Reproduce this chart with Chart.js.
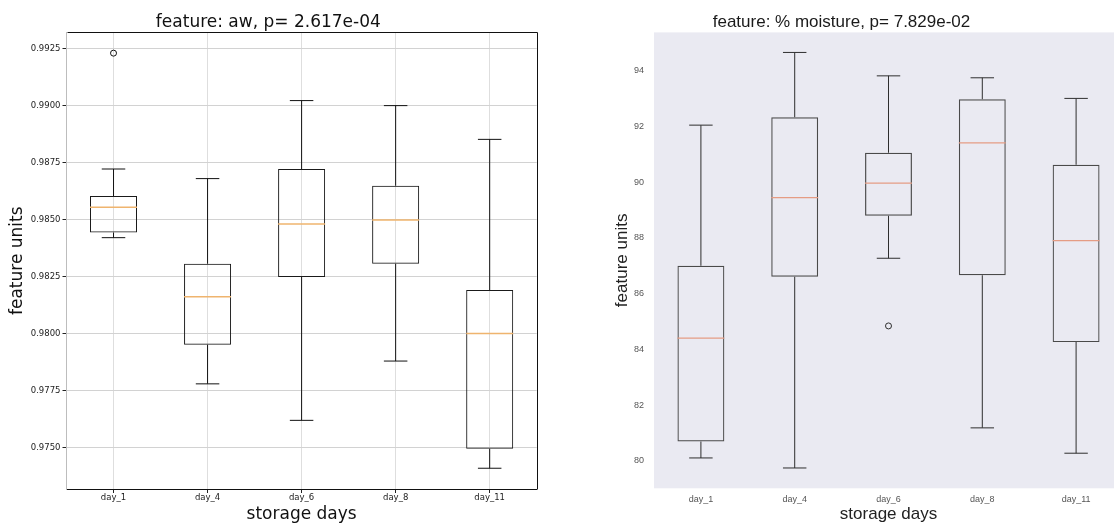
<!DOCTYPE html>
<html>
<head>
<meta charset="utf-8">
<script src="https://cdn.jsdelivr.net/npm/chart.js@4.4.1/dist/chart.umd.min.js"></script>
<style>
  html, body { margin: 0; padding: 0; background: #ffffff; overflow: hidden; width: 1114px; height: 525px; }
  #awChart { position: absolute; left: 0; top: 0; }
  #moistChart { position: absolute; left: 560px; top: 0; }
</style>
</head>
<body>
<canvas id="awChart" width="603" height="525"></canvas>
<canvas id="moistChart" width="657" height="525"></canvas>
<script>
// Storage day groups
const days = ['day_1', 'day_4', 'day_6', 'day_8', 'day_11'];

// Water activity (aw) five-number summaries per day
const awLow      = [0.98421, 0.97780, 0.97620, 0.97880, 0.97410];
const awQ1       = [0.98444, 0.97952, 0.98249, 0.98307, 0.97496];
const awMedian   = [0.98554, 0.98162, 0.98481, 0.98499, 0.98001];
const awQ3       = [0.98604, 0.98307, 0.98722, 0.98649, 0.98192];
const awHigh     = [0.98722, 0.98680, 0.99022, 0.99000, 0.98852];
const awOutliers = [0.99230, null, null, null, null];
const awTicks    = [0.9750, 0.9775, 0.9800, 0.9825, 0.9850, 0.9875, 0.9900, 0.9925];

// % moisture five-number summaries per day
const mLow      = [80.10, 79.74, 87.27, 81.18, 80.27];
const mQ1       = [80.69, 86.61, 88.80, 86.66, 84.26];
const mMedian   = [84.40, 89.45, 89.97, 91.41, 87.90];
const mQ3       = [87.00, 92.33, 91.06, 92.98, 90.63];
const mHigh     = [92.05, 94.66, 93.82, 93.75, 93.01];
const mOutliers = [null, null, 84.84, null, null];
const mTicks    = [80, 82, 84, 86, 88, 90, 92, 94];

// Half of the box width in pixels, taken from the category scale
function boxHalf(ctx, frac) {
  const s = ctx.chart.scales.x;
  return Math.abs(s.getPixelForValue(1) - s.getPixelForValue(0)) * frac / 2;
}

// Builds the datasets that make up one box-and-whisker plot
function boxDatasets(low, q1, med, q3, high, outliers, st) {
  const pair = (a, b) => a.map((v, i) => [v, b[i]]);
  const pointSet = (data, radius, color, width, style) => ({
    type: 'line', data, showLine: false, pointStyle: style || 'line',
    pointRadius: radius, pointHoverRadius: radius,
    pointBorderColor: color, pointBackgroundColor: 'rgba(0,0,0,0)',
    pointBorderWidth: width
  });
  const whisker = data => ({
    type: 'bar', data, backgroundColor: st.line, borderWidth: 0,
    inflateAmount: 0, grouped: false, barThickness: 1
  });
  return [
    pointSet(med, c => boxHalf(c, st.boxFrac), st.median, st.medianWidth),
    pointSet(outliers, 3, st.line, 1, 'circle'),
    pointSet(high, c => boxHalf(c, st.boxFrac) / 2, st.line, 1),
    pointSet(low, c => boxHalf(c, st.boxFrac) / 2, st.line, 1),
    {
      type: 'bar', data: pair(q1, q3), backgroundColor: 'rgba(0,0,0,0)',
      borderColor: st.box, borderWidth: st.boxWidth, borderSkipped: false,
      inflateAmount: 0, grouped: false, categoryPercentage: 1, barPercentage: st.boxFrac
    },
    whisker(pair(q3, high)),
    whisker(pair(low, q1))
  ];
}

// Black frame on the top and right of the aw plot
const frameEdges = {
  id: 'frameEdges',
  afterDraw(chart) {
    const a = chart.chartArea, ctx = chart.ctx;
    ctx.save();
    ctx.strokeStyle = '#111';
    ctx.lineWidth = 1;
    ctx.beginPath();
    ctx.moveTo(Math.round(a.left) + 0.5, Math.round(a.top) + 0.5);
    ctx.lineTo(Math.round(a.right) + 0.5, Math.round(a.top) + 0.5);
    ctx.lineTo(Math.round(a.right) + 0.5, Math.round(a.bottom) + 0.5);
    ctx.stroke();
    ctx.restore();
  }
};

// Lavender plot background for the moisture panel
const plotBackground = {
  id: 'plotBackground',
  beforeDraw(chart, args, opts) {
    const a = chart.chartArea, ctx = chart.ctx;
    ctx.save();
    ctx.fillStyle = opts.color;
    ctx.fillRect(a.left, a.top, a.right - a.left, a.bottom - a.top);
    ctx.restore();
  }
};

const DJ = 'DejaVu Sans';
const LS = 'Liberation Sans';

new Chart(document.getElementById('awChart'), {
  type: 'bar',
  data: {
    labels: days,
    datasets: boxDatasets(awLow, awQ1, awMedian, awQ3, awHigh, awOutliers, {
      boxFrac: 0.5, box: '#1a1a1a', boxWidth: 1, line: '#111111',
      median: '#efb46e', medianWidth: 1.5
    })
  },
  options: {
    responsive: false,
    animation: false,
    events: [],
    layout: { padding: { left: 0, right: 66.3, top: 0, bottom: 0 } },
    plugins: {
      legend: { display: false },
      tooltip: { enabled: false },
      title: {
        display: true, text: 'feature: aw, p= 2.617e-04', color: '#111',
        font: { family: DJ, size: 17, weight: 'normal' }, padding: { top: 12, bottom: 0 }
      }
    },
    scales: {
      x: {
        type: 'category', offset: true,
        grid: { display: true, offset: false, color: '#dedede', lineWidth: 1, drawTicks: true, tickLength: 4, tickColor: '#222' },
        border: { display: true, color: '#111', width: 1 },
        ticks: { color: '#222', font: { family: DJ, size: 8.5 }, padding: 0, maxRotation: 0, autoSkip: false },
        title: { display: true, text: 'storage days', color: '#111', font: { family: DJ, size: 17 }, padding: { top: 0, bottom: 0 } },
        afterFit: s => { s.height = 36; }
      },
      y: {
        type: 'linear', min: 0.97319, max: 0.99321,
        afterBuildTicks: s => { s.ticks = awTicks.map(v => ({ value: v })); },
        grid: { color: '#d2d2d2', lineWidth: 1, drawTicks: true, tickLength: 4, tickColor: '#222' },
        border: { display: true, color: '#bdbdbd', width: 1 },
        ticks: { color: '#222', font: { family: DJ, size: 8.5 }, padding: 2, callback: v => Number(v).toFixed(4) },
        title: { display: true, text: 'feature units', color: '#111', font: { family: DJ, size: 17 }, padding: { top: 7, bottom: 0 } },
        afterFit: s => { s.width = 66.5; }
      }
    }
  },
  plugins: [frameEdges]
});

new Chart(document.getElementById('moistChart'), {
  type: 'bar',
  data: {
    labels: days,
    datasets: boxDatasets(mLow, mQ1, mMedian, mQ3, mHigh, mOutliers, {
      boxFrac: 0.5, box: '#4a4a4a', boxWidth: 1.2, line: '#2e2e2e',
      median: '#e59c84', medianWidth: 1.3
    })
  },
  options: {
    responsive: false,
    animation: false,
    events: [],
    layout: { padding: { left: 0, right: 94, top: 0, bottom: 0 } },
    plugins: {
      legend: { display: false },
      tooltip: { enabled: false },
      plotBackground: { color: '#eaeaf2' },
      title: {
        display: true, text: 'feature: % moisture, p= 7.829e-02', color: '#1a1a1a',
        font: { family: LS, size: 17, weight: 'normal' }, padding: { top: 12, bottom: 0 }
      }
    },
    scales: {
      x: {
        type: 'category', offset: true,
        grid: { display: false, drawTicks: false },
        border: { display: false },
        ticks: { color: '#555', font: { family: LS, size: 9 }, padding: 6.3, maxRotation: 0, autoSkip: false },
        title: { display: true, text: 'storage days', color: '#222', font: { family: LS, size: 17 }, padding: { top: 0, bottom: 0 } },
        afterFit: s => { s.height = 36.7; }
      },
      y: {
        type: 'linear', min: 79.01, max: 95.38,
        afterBuildTicks: s => { s.ticks = mTicks.map(v => ({ value: v })); },
        grid: { display: false, drawTicks: false },
        border: { display: false },
        ticks: { color: '#555', font: { family: LS, size: 9 }, padding: 10 },
        title: { display: true, text: 'feature units', color: '#222', font: { family: LS, size: 17 }, padding: { top: 51.8, bottom: 0 } },
        afterFit: s => { s.width = 94; }
      }
    }
  },
  plugins: [plotBackground]
});
</script>
</body>
</html>
